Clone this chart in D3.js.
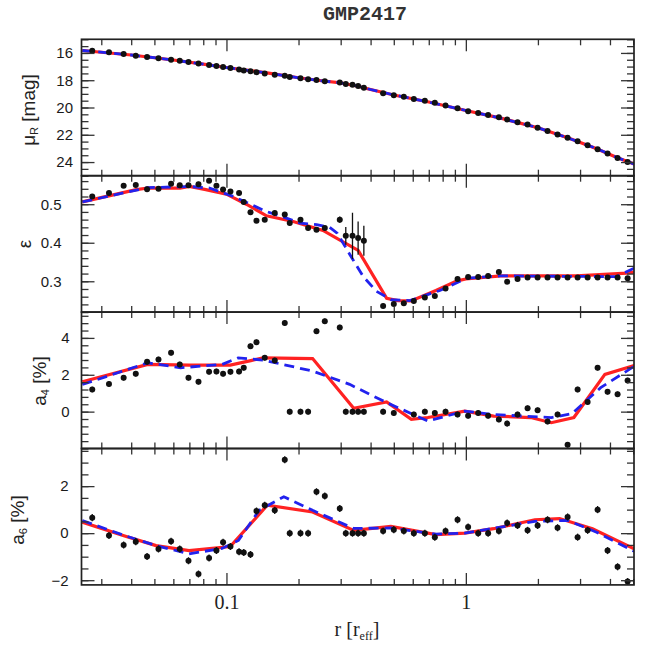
<!DOCTYPE html>
<html>
<head>
<meta charset="utf-8">
<script src="https://cdn.jsdelivr.net/npm/d3@7"></script>
<style>
  body { margin: 0; background: #fff; }
  svg { display: block; }
  .axis path.domain { display: none; }
  .axis line { stroke: #333; stroke-width: 1.3; }
  .ylab text { font-family: "Liberation Sans", Arial, sans-serif; font-size: 15px; fill: #1a1a1a; }
  .xlab text { font-family: "Liberation Serif", "Times New Roman", serif; font-size: 20px; fill: #222; }
  .title { font-family: "Liberation Mono", monospace; font-weight: bold; font-size: 20px; fill: #333; }
  .atitle { font-family: "Liberation Sans", Arial, sans-serif; font-size: 19px; fill: #222; }
  .xtitle { font-family: "Liberation Serif", "Times New Roman", serif; font-size: 20px; fill: #222; }
</style>
</head>
<body>
<svg id="chart"></svg>
<script>
// isophote radii [r_eff], shared by all panels
const radii = [0.0275, 0.0323, 0.0372, 0.0418, 0.0466, 0.0520, 0.0587, 0.0638, 0.0694, 0.0764,
  0.0846, 0.0908, 0.0968, 0.1039, 0.1129, 0.1181, 0.1260, 0.1335, 0.1445, 0.1591,
  0.1752, 0.1838, 0.2038, 0.2193, 0.2377, 0.2575, 0.2974, 0.3151, 0.3361, 0.3548,
  0.3749, 0.4512, 0.5001, 0.5507, 0.6064, 0.6741, 0.7420, 0.8226, 0.9232, 1.022,
  1.126, 1.239, 1.374, 1.488, 1.644, 1.811, 1.994, 2.194, 2.416, 2.661,
  2.930, 3.226, 3.551, 3.909, 4.304, 4.739];

const muVals = [15.84, 15.95, 16.08, 16.2, 16.3, 16.39, 16.5, 16.57, 16.67, 16.78,
  16.88, 16.95, 17.03, 17.1, 17.22, 17.28, 17.35, 17.41, 17.5, 17.6,
  17.68, 17.76, 17.86, 17.93, 17.99, 18.08, 18.17, 18.28, 18.34, 18.42,
  18.55, 18.95, 19.1, 19.22, 19.37, 19.5, 19.66, 19.86, 20.05, 20.28,
  20.4, 20.55, 20.72, 20.88, 21.08, 21.25, 21.48, 21.72, 21.98, 22.22,
  22.48, 22.76, 23.07, 23.38, 23.7, 24.0];
const muErr = 0.05;

const epsVals = [0.520, 0.529, 0.548, 0.550, 0.539, 0.540, 0.553, 0.549, 0.549, 0.552,
  0.561, 0.548, 0.538, 0.533, 0.529, 0.506, 0.479, 0.457, 0.460, 0.477,
  0.473, 0.451, 0.460, 0.438, 0.434, 0.438, 0.460, 0.418, 0.418, 0.412,
  0.405, 0.236, 0.241, 0.243, 0.249, 0.258, 0.262, 0.281, 0.306, 0.311,
  0.311, 0.314, 0.324, 0.299, 0.306, 0.310, 0.310, 0.310, 0.310, 0.310,
  0.310, 0.310, 0.310, 0.310, 0.310, 0.308];
const epsErr = [0.006, 0.006, 0.006, 0.006, 0.006, 0.006, 0.006, 0.006, 0.006, 0.006,
  0.006, 0.006, 0.006, 0.006, 0.006, 0.006, 0.006, 0.006, 0.006, 0.006,
  0.006, 0.006, 0.006, 0.006, 0.006, 0.006, 0.008, 0.023, 0.06, 0.043,
  0.039, 0.006, 0.006, 0.006, 0.006, 0.006, 0.006, 0.006, 0.006, 0.006,
  0.006, 0.006, 0.006, 0.006, 0.006, 0.006, 0.006, 0.006, 0.006, 0.006,
  0.006, 0.006, 0.006, 0.006, 0.006, 0.006];

const a4Vals = [1.2, 1.5, 1.84, 2.05, 2.7, 2.83, 3.19, 2.56, 1.84, 1.62,
  2.16, 2.18, 2.05, 2.16, 2.18, 2.38, 3.55, 3.76, 2.92, 2.77,
  4.81, 0, 0, 0, 4.36, 4.9, 4.57, 0, 0, 0,
  0, 0, -0.07, null, -0.16, 0, -0.07, 0, -0.16, -0.22,
  -0.07, -0.22, -0.42, -0.65, -0.16, 0.18, 0.07, -0.54, -0.16, -1.8,
  1.2, 0.52, 2.38, 1.08, 0.94, 1.69];
const a4Err = 0.15;

const a6Vals = [0.66, -0.10, -0.50, -0.36, -0.99, -0.67, -0.34, -0.67, -1.17, -1.74,
  -1.06, -0.74, -0.39, -0.57, -0.79, -0.82, -0.91, 0.94, 1.19, 0.97,
  3.12, 0, 0, 0, 1.76, 1.58, 1.05, 0, 0, 0,
  0, 0.09, 0.15, 0.09, 0, 0, -0.17, 0.09, 0.57, 0.26,
  0, 0, 0.09, 0.43, 0.33, 0.12, 0.33, 0.57, 0.23, 0.69,
  -0.17, 0.12, 1.0, -0.74, -1.43, -2.06];
const a6Err = 0.15;

// model profiles: [r, value]
const muModel = [[0.025, 15.82], [0.04, 16.15], [0.06, 16.52], [0.08, 16.82], [0.1, 17.07],
  [0.15, 17.48], [0.2, 17.82], [0.25, 18.04], [0.3, 18.2], [0.35, 18.42], [0.4, 18.68],
  [0.5, 19.08], [0.7, 19.6], [1.0, 20.22], [1.4, 20.78], [2.0, 21.48], [2.7, 22.26],
  [3.5, 23.0], [4.3, 23.68], [5.05, 24.15]];

const epsRed = [[0.025, 0.506], [0.042, 0.538], [0.047, 0.542], [0.064, 0.542], [0.07, 0.546],
  [0.082, 0.538], [0.1, 0.526], [0.121, 0.5], [0.147, 0.47], [0.19, 0.455], [0.253, 0.432],
  [0.307, 0.402], [0.355, 0.38], [0.467, 0.256], [0.52, 0.25], [0.59, 0.249], [0.75, 0.276],
  [0.92, 0.301], [1.0, 0.306], [1.4, 0.314], [2.9, 0.314], [4.7, 0.321], [5.05, 0.324]];
const epsBlue = [[0.025, 0.506], [0.047, 0.543], [0.07, 0.546], [0.085, 0.542], [0.107, 0.52],
  [0.147, 0.481], [0.178, 0.464], [0.203, 0.451], [0.238, 0.447], [0.27, 0.44], [0.29, 0.425],
  [0.328, 0.369], [0.372, 0.313], [0.423, 0.274], [0.489, 0.252], [0.583, 0.25], [0.779, 0.276],
  [1.007, 0.308], [1.39, 0.314], [4.26, 0.312], [5.05, 0.334]];

const a4Red = [[0.025, 1.62], [0.0469, 2.56], [0.0698, 2.52], [0.1037, 2.52], [0.1264, 2.77],
  [0.1423, 2.92], [0.229, 2.88], [0.34, 0.18], [0.4667, 0.52], [0.592, -0.42], [0.694, -0.32],
  [0.99, 0.03], [1.307, -0.24], [1.867, -0.32], [2.275, -0.6], [2.827, -0.32], [3.809, 2.02],
  [5.05, 2.5]];
const a4Blue = [[0.025, 1.47], [0.0469, 2.65], [0.0644, 2.38], [0.0958, 2.56], [0.112, 2.92],
  [0.142, 2.8], [0.229, 2.2], [0.327, 1.48], [0.4667, 0.49], [0.694, -0.51], [0.99, 0.03],
  [1.307, -0.16], [2.275, -0.32], [2.773, -0.11], [3.658, 1.3], [5.05, 2.46]];

const a6Red = [[0.025, 0.47], [0.037, -0.1], [0.0508, -0.53], [0.0698, -0.74], [0.1037, -0.57],
  [0.1481, 1.19], [0.229, 0.9], [0.34, 0.12], [0.486, 0.29], [0.7506, -0.06], [0.99, 0],
  [1.307, 0.19], [1.942, 0.57], [2.464, 0.62], [3.38, 0.19], [5.05, -0.67]];
const a6Blue = [[0.025, 0.54], [0.037, -0.08], [0.0508, -0.53], [0.0698, -0.88], [0.0958, -0.65],
  [0.1122, -0.31], [0.1368, 0.97], [0.1736, 1.55], [0.229, 0.97], [0.34, 0.2], [0.486, 0.22],
  [0.75, -0.04], [0.99, 0], [1.94, 0.5], [2.666, 0.54], [3.517, 0.04], [5.05, -0.77]];

const xMajor = [0.1, 1];
const xMinor = [0.03, 0.04, 0.05, 0.06, 0.07, 0.08, 0.09, 0.2, 0.3, 0.4, 0.5, 0.6, 0.7, 0.8, 0.9, 2, 3, 4, 5];

// layout
const W = 645, H = 652;
const L = 81.5, R = 634, T = 39.3, PH = 136.4;

const svg = d3.select('#chart').attr('width', W).attr('height', H);
svg.append('rect').attr('width', W).attr('height', H).attr('fill', '#fff');

const x = d3.scaleLog().domain([0.0248, 5.04]).range([L, R]);

const steps = (a, b, s) => d3.range(Math.round(a / s), Math.round(b / s) + 1).map(i => +(i * s).toFixed(4));

const panels = [
  { vals: muVals, err: () => muErr, dom: [15, 25], flip: true, major: [16, 18, 20, 22, 24],
    minor: steps(15, 25, 0.5), fmt: d3.format('d'), pad: 8.5, red: muModel, blue: muModel },
  { vals: epsVals, err: i => epsErr[i], dom: [0.22, 0.574], major: [0.3, 0.4, 0.5],
    minor: steps(0.22, 0.56, 0.02), fmt: d3.format('.1f'), pad: 20, red: epsRed, blue: epsBlue },
  { vals: a4Vals, err: () => a4Err, dom: [-2, 5.4], major: [0, 2, 4],
    minor: steps(-2, 5.2, 0.4), fmt: d3.format('d'), pad: 12, red: a4Red, blue: a4Blue },
  { vals: a6Vals, err: () => a6Err, dom: [-2.2, 3.6], major: [-2, 0, 2],
    minor: steps(-2, 3.5, 0.5), fmt: d3.format('d'), pad: 13, red: a6Red, blue: a6Blue },
];

const line = y => d3.line().x(d => x(d[0])).y(d => y(d[1]));

panels.forEach((p, k) => {
  const top = T + k * PH, bot = top + PH;
  const y = d3.scaleLinear().domain(p.dom).range(p.flip ? [top, bot] : [bot, top]);
  const g = svg.append('g');

  g.append('clipPath').attr('id', `clip${k}`)
    .append('rect').attr('x', L).attr('y', top).attr('width', R - L).attr('height', PH);
  const plot = g.append('g').attr('clip-path', `url(#clip${k})`);

  plot.append('path').datum(p.red)
    .attr('d', line(y)).attr('fill', 'none')
    .attr('stroke', '#f22').attr('stroke-width', 3.2);
  plot.append('path').datum(p.blue)
    .attr('d', line(y)).attr('fill', 'none')
    .attr('stroke', '#22e').attr('stroke-width', 2.8).attr('stroke-dasharray', '10,6');

  const pts = radii.map((r, i) => ({ r, v: p.vals[i], e: p.err(i) })).filter(d => d.v !== null);
  plot.selectAll('.err').data(pts).enter().append('line')
    .attr('x1', d => x(d.r)).attr('x2', d => x(d.r))
    .attr('y1', d => y(d.v - d.e)).attr('y2', d => y(d.v + d.e))
    .attr('stroke', '#111').attr('stroke-width', 1.3);
  plot.selectAll('.dot').data(pts).enter().append('circle')
    .attr('cx', d => x(d.r)).attr('cy', d => y(d.v)).attr('r', 3)
    .attr('fill', '#111');

  // ticks on all four sides, pointing inward
  const ax = (gen, tx, ty, vals, len, fmt, pad, cls) => {
    const a = g.append('g').attr('class', `axis ${cls || ''}`)
      .attr('transform', `translate(${tx},${ty})`)
      .call(gen.tickValues(vals).tickSize(-len).tickPadding(pad || 3).tickFormat(fmt || ''));
    return a;
  };
  ax(d3.axisLeft(y), L, 0, p.minor, 7);
  ax(d3.axisLeft(y), L, 0, p.major, 13, p.fmt, p.pad, 'ylab');
  ax(d3.axisRight(y), R, 0, p.minor, 7);
  ax(d3.axisRight(y), R, 0, p.major, 13);
  ax(d3.axisTop(x), 0, top, xMinor, 6);
  ax(d3.axisTop(x), 0, top, xMajor, 12);
  ax(d3.axisBottom(x), 0, bot, xMinor, 6);
  if (k === panels.length - 1) {
    ax(d3.axisBottom(x), 0, bot, xMajor, 12, d3.format('~g'), 10, 'xlab');
  } else {
    ax(d3.axisBottom(x), 0, bot, xMajor, 12);
  }

  g.append('rect').attr('x', L).attr('y', top).attr('width', R - L).attr('height', PH)
    .attr('fill', 'none').attr('stroke', '#222').attr('stroke-width', 1.7);
});

// titles
svg.append('text').attr('class', 'title').attr('x', 365).attr('y', 20)
  .attr('text-anchor', 'middle').text('GMP2417');

const ytitle = (cx, cy, parts) => {
  const t = svg.append('text').attr('class', 'atitle')
    .attr('transform', `translate(${cx},${cy}) rotate(-90)`)
    .attr('text-anchor', 'middle').attr('dy', '0.35em');
  parts.forEach(([s, sub]) => {
    const ts = t.append('tspan').text(s);
    if (sub) ts.attr('font-size', '11px').attr('baseline-shift', '-30%');
  });
};
ytitle(28, 110, [['μ'], ['R', true], [' [mag]']]);
ytitle(24, 244, [['ε']]);
ytitle(39, 381, [['a'], ['4', true], [' [%]']]);
ytitle(17, 520, [['a'], ['6', true], [' [%]']]);

const xt = svg.append('text').attr('class', 'xtitle').attr('x', 357).attr('y', 636)
  .attr('text-anchor', 'middle');
xt.append('tspan').text('r [r');
xt.append('tspan').text('eff').attr('font-size', '12px').attr('baseline-shift', '-30%');
xt.append('tspan').text(']');
</script>
</body>
</html>
